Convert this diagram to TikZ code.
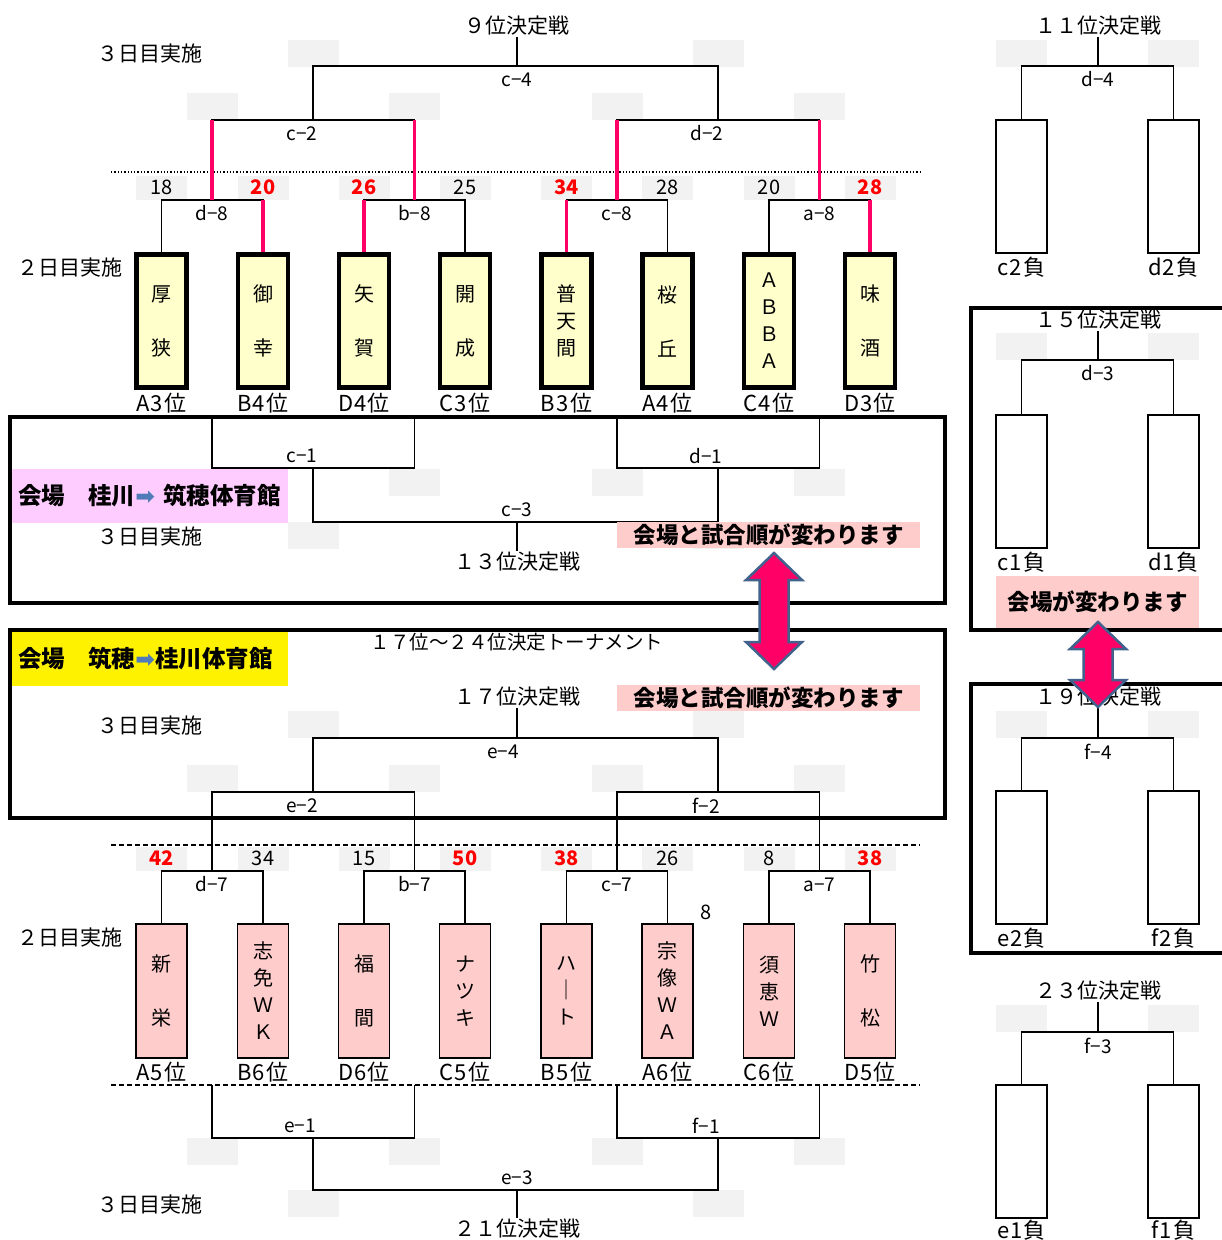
\documentclass[tikz,border=0pt]{standalone}
\usepackage{fontspec}
\setmainfont{Noto Sans CJK JP}
\newfontfamily\arrowfont{DejaVu Sans}
\usetikzlibrary{positioning}

\definecolor{winpink}{HTML}{FF0066}
\definecolor{teamyellow}{HTML}{FFFFCC}
\definecolor{teampink}{HTML}{FFCCCC}
\definecolor{boxgray}{HTML}{F2F2F2}
\definecolor{venuepink}{HTML}{FFCCFF}
\definecolor{notepink}{HTML}{FFCCCC}
\definecolor{arrowedge}{HTML}{41628C}
\definecolor{arrowblue}{HTML}{4F7CB8}

\newcommand{\hi}[1]{\textcolor{red}{\bfseries #1}}
\newcommand{\rk}[3]{#1\kern1pt #2\kern1.5pt #3}
\newcommand{\venuearrow}[3]{%
  \filldraw[swaparrow] (#1,#2) -- (#1+28,#2+27) -- (#1+14.5,#2+27) -- (#1+14.5,#3-27)
    -- (#1+28,#3-27) -- (#1,#3) -- (#1-28,#3-27) -- (#1-14.5,#3-27)
    -- (#1-14.5,#2+27) -- (#1-28,#2+27) -- cycle;}

\tikzset{
  brk/.style={line width=1.6pt},
  win/.style={line width=3.6pt, draw=winpink},
  yteam/.style={draw, line width=4.5pt, fill=teamyellow, minimum width=50pt, minimum height=133pt,
    inner sep=0pt, align=center, font=\fontsize{20}{27}\selectfont},
  pteam/.style={draw, line width=1.8pt, fill=teampink, minimum width=51pt, minimum height=134pt,
    inner sep=0pt, align=center, font=\fontsize{20}{27}\selectfont},
  lose/.style={draw, line width=1.8pt, minimum width=51pt, minimum height=133pt},
  hall/.style={draw, line width=4.5pt, inner sep=0pt},
  gbox/.style={fill=boxgray},
  heading/.style={inner sep=1pt, font=\fontsize{21}{25}\selectfont},
  rank/.style={inner sep=0pt, font=\fontsize{22}{24}\selectfont},
  score/.style={inner sep=0pt, font=\fontsize{20}{22}\selectfont},
  mlabel/.style={inner sep=0pt, font=\fontsize{19}{22}\selectfont},
  lbelow/.style={mlabel, yshift=-13.5pt},
  labove/.style={mlabel, yshift=12pt},
  banner/.style={minimum height=54pt, text width=264pt, inner xsep=6pt, inner ysep=0pt,
    align=left, font=\fontsize{23.5}{26}\selectfont\bfseries},
  note/.style={fill=notepink, minimum height=26pt, inner sep=0pt, font=\fontsize{22.5}{26}\selectfont\bfseries},
  swaparrow/.style={fill=winpink, draw=arrowedge, line width=2.5pt, line join=miter},
}

\begin{document}
\begin{tikzpicture}[x=1pt, y=-1pt]
\useasboundingbox (0,0) rectangle (1222,1240);

% gray result boxes
\foreach \x/\y in {313/40, 718/40, 212/93, 414.5/93, 617/93, 819.5/93,
    212/469, 414.5/469, 617/469, 819.5/469, 313/522, 718/522,
    313/711, 718/711, 212/765, 414.5/765, 617/765, 819.5/765,
    212/1138, 414.5/1138, 617/1138, 819.5/1138, 313/1190, 718/1190,
    1021.5/40, 1173.5/40, 1021.5/333, 1173.5/333,
    1021.5/711, 1173.5/711, 1021.5/1005, 1173.5/1005}
  \fill[gbox] (\x-25.5,\y) rectangle ++(51,26.5);

% halls
\node[hall, minimum width=935pt, minimum height=186pt] (hall1) at (477.5,510) {};
\node[hall, minimum width=935pt, minimum height=188pt] (hall2) at (477.5,724) {};
\node[hall, minimum width=262pt, minimum height=322pt] (hall3) at (1102,469) {};
\node[hall, minimum width=262pt, minimum height=269pt] (hall4) at (1102,818.5) {};

% day 2 lines
\coordinate (cut0w) at (111,172);  \coordinate (cut0e) at (920,172);
\coordinate (cut1w) at (111,845);  \coordinate (cut1e) at (920,845);
\coordinate (cut2w) at (111,1085); \coordinate (cut2e) at (920,1085);
\draw[dotted, line width=1.3pt] (cut0w) -- (cut0e);
\draw[line width=1.3pt, dash pattern=on 5pt off 3pt] (cut1w) -- (cut1e);
\draw[line width=1.3pt, dash pattern=on 5pt off 3pt] (cut2w) -- (cut2e);

% headings
\node[heading] (t9)  at (517,26)   {９位決定戦};
\node[heading] (t13) at (517,562)  {１３位決定戦};
\node[heading, font=\fontsize{19.5}{24}\selectfont] (t17to24) at (517,642) {１７位～２４位決定トーナメント};
\node[heading] (t17) at (517,697)  {１７位決定戦};
\node[heading] (t21) at (517,1229) {２１位決定戦};
\node[heading] (t11) at (1098,26)  {１１位決定戦};
\node[heading] (t15) at (1098,320) {１５位決定戦};
\node[heading] (t19) at (1098,697) {１９位決定戦};
\node[heading] (t23) at (1098,991) {２３位決定戦};
\node[heading] (day3a) at (150,54)   {３日目実施};
\node[heading] (day2a) at (70,268)   {２日目実施};
\node[heading] (day3b) at (150,537)  {３日目実施};
\node[heading] (day3c) at (150,726)  {３日目実施};
\node[heading] (day2b) at (70,938)   {２日目実施};
\node[heading] (day3d) at (150,1205) {３日目実施};

% day 2 teams, upper
\node[yteam] (atsu)    at (161.5,321) {厚\\[27pt]狭};
\node[yteam] (miyuki)  at (263,321)   {御\\[27pt]幸};
\node[yteam] (yaga)    at (364,321)   {矢\\[27pt]賀};
\node[yteam] (kaisei)  at (465,321)   {開\\[27pt]成};
\node[yteam] (futema)  at (566.5,321) {普\\天\\間};
\node[yteam] (sakura)  at (667.5,321) {桜\\[27pt]丘};
\node[yteam] (abba)    at (769,321)   {Ａ\\Ｂ\\Ｂ\\Ａ};
\node[yteam] (umasake) at (870,321)   {味\\[27pt]酒};
\node[rank, below=3pt of atsu]    (atsu-r)    {\rk A3位};
\node[rank, below=3pt of miyuki]  (miyuki-r)  {\rk B4位};
\node[rank, below=3pt of yaga]    (yaga-r)    {\rk D4位};
\node[rank, below=3pt of kaisei]  (kaisei-r)  {\rk C3位};
\node[rank, below=3pt of futema]  (futema-r)  {\rk B3位};
\node[rank, below=3pt of sakura]  (sakura-r)  {\rk A4位};
\node[rank, below=3pt of abba]    (abba-r)    {\rk C4位};
\node[rank, below=3pt of umasake] (umasake-r) {\rk D3位};

% day 2 teams, lower
\node[pteam] (shinei)    at (161.5,991) {新\\[27pt]栄};
\node[pteam] (shime)     at (263,991)   {志\\免\\Ｗ\\Ｋ};
\node[pteam] (fukuma)    at (364,991)   {福\\[27pt]間};
\node[pteam] (natsuki)   at (465,991)   {ナ\\ツ\\キ};
\node[pteam] (heart)     at (566.5,991) {ハ\\｜\\ト};
\node[pteam] (munakata)  at (667.5,991) {宗\\像\\Ｗ\\Ａ};
\node[pteam] (sue)       at (769,991)   {須\\恵\\Ｗ};
\node[pteam] (takematsu) at (870,991)   {竹\\[27pt]松};
\node[rank, below=3pt of shinei]    (shinei-r)    {\rk A5位};
\node[rank, below=3pt of shime]     (shime-r)     {\rk B6位};
\node[rank, below=3pt of fukuma]    (fukuma-r)    {\rk D6位};
\node[rank, below=3pt of natsuki]   (natsuki-r)   {\rk C5位};
\node[rank, below=3pt of heart]     (heart-r)     {\rk B5位};
\node[rank, below=3pt of munakata]  (munakata-r)  {\rk A6位};
\node[rank, below=3pt of sue]       (sue-r)       {\rk C6位};
\node[rank, below=3pt of takematsu] (takematsu-r) {\rk D5位};
\node[score] (extra8) at (706,912) {8};

% scores
\foreach \x/\s [count=\i] in {161.5/18, 263/\hi{20}, 364/\hi{26}, 465/25,
    566.5/\hi{34}, 667.5/28, 769/20, 870/\hi{28}} {
  \fill[gbox] (\x-25.5,176) rectangle ++(51,23.5);
  \node[score] (up\i) at (\x,187.5) {\s};
}
\foreach \x/\s [count=\i] in {161.5/\hi{42}, 263/34, 364/15, 465/\hi{50},
    566.5/\hi{38}, 667.5/26, 769/8, 870/\hi{38}} {
  \fill[gbox] (\x-25.5,847) rectangle ++(51,24);
  \node[score] (lo\i) at (\x,858) {\s};
}

% 9th place bracket
\coordinate (d8) at (212,200);   \coordinate (b8) at (414.5,200);
\coordinate (c8) at (617,200);   \coordinate (a8) at (819.5,200);
\coordinate (c2) at (313,120);   \coordinate (d2) at (718,120);
\coordinate (c4) at (517,66);
\draw[brk] (atsu.north) |- (d8) node[lbelow] (d8-l) {d−8} -| (miyuki.north);
\draw[brk] (yaga.north) |- (b8) node[lbelow] (b8-l) {b−8} -| (kaisei.north);
\draw[brk] (futema.north) |- (c8) node[lbelow] (c8-l) {c−8} -| (sakura.north);
\draw[brk] (abba.north) |- (a8) node[lbelow] (a8-l) {a−8} -| (umasake.north);
\draw[brk] (d8) |- (c2) node[lbelow, xshift=-11pt] (c2-l) {c−2} -| (b8);
\draw[brk] (c8) |- (d2) node[lbelow, xshift=-11pt] (d2-l) {d−2} -| (a8);
\draw[brk] (c2) |- (c4) node[lbelow] (c4-l) {c−4} -| (d2);
\draw[brk] (c4) -- (t9.south);
\draw[win] (miyuki.north) -- (miyuki.north |- d8);
\draw[win] (yaga.north) -- (yaga.north |- b8);
\draw[win] (futema.north) -- (futema.north |- c8);
\draw[win] (umasake.north) -- (umasake.north |- a8);
\draw[win] (d8) -- (d8 |- c2);
\draw[win] (b8) -- (b8 |- c2);
\draw[win] (c8) -- (c8 |- d2);
\draw[win] (a8) -- (a8 |- d2);

% 13th place bracket
\coordinate (c1) at (313,468);   \coordinate (d1) at (718,468);
\coordinate (c3) at (517,522);
\draw[brk] (d8 |- hall1.north) |- (c1) node[labove, xshift=-11pt] (c1-l) {c−1} -| (b8 |- hall1.north);
\draw[brk] (c8 |- hall1.north) |- (d1) node[labove, xshift=-12pt] (d1-l) {d−1} -| (a8 |- hall1.north);
\draw[brk] (c1) |- (c3) node[labove] (c3-l) {c−3} -| (d1);
\draw[brk] (c3) -- (t13.north);

% 17th place bracket
\coordinate (d7) at (212,871);   \coordinate (b7) at (414.5,871);
\coordinate (c7) at (617,871);   \coordinate (a7) at (819.5,871);
\coordinate (e2) at (313,792);   \coordinate (f2) at (718,792);
\coordinate (e4) at (517,738);
\draw[brk] (shinei.north) |- (d7) node[lbelow] (d7-l) {d−7} -| (shime.north);
\draw[brk] (fukuma.north) |- (b7) node[lbelow] (b7-l) {b−7} -| (natsuki.north);
\draw[brk] (heart.north) |- (c7) node[lbelow] (c7-l) {c−7} -| (munakata.north);
\draw[brk] (sue.north) |- (a7) node[lbelow] (a7-l) {a−7} -| (takematsu.north);
\draw[brk] (d7) |- (e2) node[lbelow, xshift=-11pt] (e2-l) {e−2} -| (b7);
\draw[brk] (c7) |- (f2) node[lbelow, xshift=-12pt] (f2-l) {f−2} -| (a7);
\draw[brk] (e2) |- (e4) node[lbelow, xshift=-14pt] (e4-l) {e−4} -| (f2);
\draw[brk] (e4) -- (t17.south);

% 21st place bracket
\coordinate (e1) at (313,1138);  \coordinate (f1) at (718,1138);
\coordinate (e3) at (517,1190);
\draw[brk] (d7 |- cut2w) |- (e1) node[labove, xshift=-13pt] (e1-l) {e−1} -| (b7 |- cut2w);
\draw[brk] (c7 |- cut2w) |- (f1) node[labove, xshift=-12pt] (f1-l) {f−1} -| (a7 |- cut2w);
\draw[brk] (e1) |- (e3) node[labove] (e3-l) {e−3} -| (f1);
\draw[brk] (e3) -- (t21.north);

% right side: 11th, 15th, 19th, 23rd
\node[lose] (c2lose) at (1021.5,186.5) {};
\node[lose] (d2lose) at (1173.5,186.5) {};
\node[lose] (c1lose) at (1021.5,481.5) {};
\node[lose] (d1lose) at (1173.5,481.5) {};
\node[lose] (e2lose) at (1021.5,857.5) {};
\node[lose] (f2lose) at (1173.5,857.5) {};
\node[lose] (e1lose) at (1021.5,1151.5) {};
\node[lose] (f1lose) at (1173.5,1151.5) {};
\node[rank, below=3pt of c2lose] (c2lose-r) {\rk c2負};
\node[rank, below=3pt of d2lose] (d2lose-r) {\rk d2負};
\node[rank, below=3pt of c1lose] (c1lose-r) {\rk c1負};
\node[rank, below=3pt of d1lose] (d1lose-r) {\rk d1負};
\node[rank, below=3pt of e2lose] (e2lose-r) {\rk e2負};
\node[rank, below=3pt of f2lose] (f2lose-r) {\rk f2負};
\node[rank, below=1pt of e1lose] (e1lose-r) {\rk e1負};
\node[rank, below=1pt of f1lose] (f1lose-r) {\rk f1負};
\coordinate (d4) at (1098,66);   \coordinate (d3) at (1098,360);
\coordinate (f4) at (1098,738);  \coordinate (f3) at (1098,1032);
\draw[brk] (c2lose.north) |- (d4) node[lbelow] (d4-l) {d−4} -| (d2lose.north);
\draw[brk] (c1lose.north) |- (d3) node[lbelow] (d3-l) {d−3} -| (d1lose.north);
\draw[brk] (e2lose.north) |- (f4) node[lbelow] (f4-l) {f−4} -| (f2lose.north);
\draw[brk] (e1lose.north) |- (f3) node[lbelow] (f3-l) {f−3} -| (f1lose.north);
\draw[brk] (d4) -- (t11.south);
\draw[brk] (d3) -- (t15.south);
\draw[brk] (f4) -- (t19.south);
\draw[brk] (f3) -- (t23.south);

% venue notes
\node[banner, fill=venuepink] (venue1) at (150,496) {会場　桂川{\arrowfont\color{arrowblue}➡} 筑穂体育館};
\node[banner, fill=yellow] (venue2) at (150,659) {会場　筑穂{\arrowfont\color{arrowblue}➡}桂川体育館};
\node[note, minimum width=303pt] (note1) at (768.5,535) {会場と試合順が変わります};
\node[note, minimum width=303pt] (note2) at (768.5,698) {会場と試合順が変わります};
\node[note, minimum width=203pt, minimum height=52pt] (note3) at (1097.5,602) {会場が変わります};

\venuearrow{774}{553}{669}
\venuearrow{1098}{622}{707}
\end{tikzpicture}
\end{document}
